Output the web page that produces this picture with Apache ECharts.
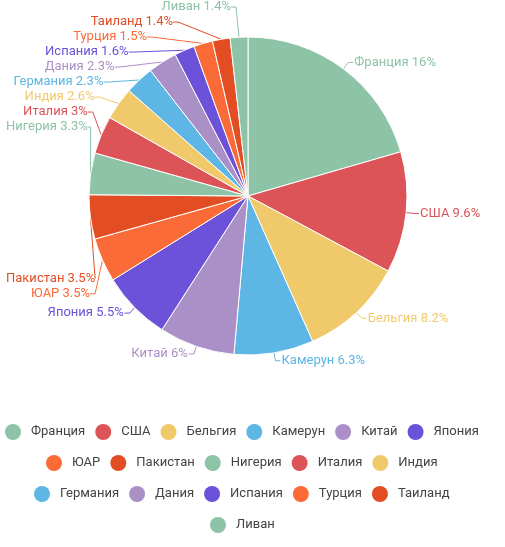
<!DOCTYPE html>
<html>
<head>
<meta charset="utf-8">
<script src="https://cdn.jsdelivr.net/npm/echarts@6/dist/echarts.min.js"></script>
<style>
  html, body { margin: 0; padding: 0; background: #fff; }
  #chart { width: 505px; height: 547px; }
</style>
</head>
<body>
<div id="chart"></div>
<script>
// countries, clockwise from 12 o'clock
const countries = [
  'Франция', 'США', 'Бельгия', 'Камерун', 'Китай', 'Япония',
  'ЮАР', 'Пакистан', 'Нигерия', 'Италия', 'Индия',
  'Германия', 'Дания', 'Испания', 'Турция', 'Таиланд',
  'Ливан'
];
const shares = [16, 9.6, 8.2, 6.3, 6, 5.5, 3.5, 3.5, 3.3, 3, 2.6, 2.3, 2.3, 1.6, 1.5, 1.4, 1.4];

const palette = ['#8dc3a7', '#dc5457', '#f0ca6a', '#5db6e4', '#aa90c6', '#6c51d9', '#fb6b38', '#e24d23'];

// legend rows as laid out in the picture
const legendRows = [
  countries.slice(0, 6),
  countries.slice(6, 11),
  countries.slice(11, 16),
  countries.slice(16)
];

const pieCenter = [248, 196];
const pieRadius = 159;
const legendCenterX = 242;

const chart = echarts.init(document.getElementById('chart'));

const legends = legendRows.map(function (row, i) {
  return {
    data: row,
    top: 424 + i * 31,
    left: 'center',
    padding: 0,
    icon: 'circle',
    itemWidth: 26,
    itemHeight: 16,
    itemGap: 10,
    itemStyle: { borderWidth: 0 },
    textStyle: { fontFamily: 'Roboto', fontSize: 13, color: '#444' }
  };
});

// first pass only notes where echarts puts every label
const natural = [];
function recordLabel(p) {
  const r = p.labelRect;
  natural[p.dataIndex] = { x: r.x, y: r.y, width: r.width, height: r.height };
  return {};
}

// left labels that would run off the page slide along the rim until they fit,
// their neighbours are stacked on after them in order
function stackLeftLabels() {
  const cx = pieCenter[0], cy = pieCenter[1], R = pieRadius;
  const margin = 6, gap = 17, step = 15;
  const left = [];
  natural.forEach(function (r, i) {
    if (r && r.x + r.width / 2 < cx) left.push({ i: i, r: r, mid: r.y + r.height / 2 });
  });
  const upper = left.filter(function (l) { return l.mid < cy; })
    .sort(function (a, b) { return b.mid - a.mid; });
  const lower = left.filter(function (l) { return l.mid >= cy; })
    .sort(function (a, b) { return a.mid - b.mid; });
  const placed = {};
  function stack(list, dir) {
    let prev = null;
    list.forEach(function (l) {
      let y = l.mid;
      if (l.r.x < margin) {
        const room = cx - (margin + l.r.width + gap);
        const need = Math.sqrt(Math.max(0, R * R - room * room));
        y = dir < 0 ? Math.min(y, cy - need) : Math.max(y, cy + need);
      }
      if (prev !== null) y = dir < 0 ? Math.min(y, prev - step) : Math.max(y, prev + step);
      prev = y;
      if (Math.abs(y - l.mid) < 0.5) return;
      const dy = Math.abs(y - cy);
      const rim = dy < R ? cx - Math.sqrt(R * R - dy * dy) : cx;
      const right = Math.max(l.r.x + l.r.width, margin + l.r.width);
      placed[l.i] = {
        x: Math.min(right, rim - gap),
        y: y,
        align: 'right',
        verticalAlign: 'middle'
      };
    });
  }
  stack(upper, -1);
  stack(lower, 1);
  return function (p) { return placed[p.dataIndex] || {}; };
}

chart.setOption({
  color: palette,
  animation: false,
  legend: legends,
  series: [{
    type: 'pie',
    center: pieCenter,
    radius: pieRadius,
    startAngle: 90,
    data: countries.map(function (name, i) {
      return { name: name, value: shares[i] };
    }),
    itemStyle: { borderColor: '#fff', borderWidth: 1 },
    label: {
      formatter: '{b} {c}%',
      fontFamily: 'Roboto',
      fontSize: 13,
      color: 'inherit',
      overflow: 'none',
      distanceToLabelLine: 1
    },
    labelLine: { length: 8, length2: 5, lineStyle: { width: 1 } },
    labelLayout: recordLabel
  }]
});

const update = { series: [{ labelLayout: stackLeftLabels() }] };

// rows sit a little left of the page middle; measure them once drawn
try {
  const ecModel = chart.getModel();
  update.legend = legendRows.map(function (row, i) {
    const view = chart.getViewOfComponentModel(ecModel.getComponent('legend', i));
    const box = view.group.getBoundingRect();
    return { left: Math.round(legendCenterX - box.width / 2) };
  });
} catch (e) {
  // keep the centred rows
}

chart.setOption(update);
</script>
</body>
</html>
